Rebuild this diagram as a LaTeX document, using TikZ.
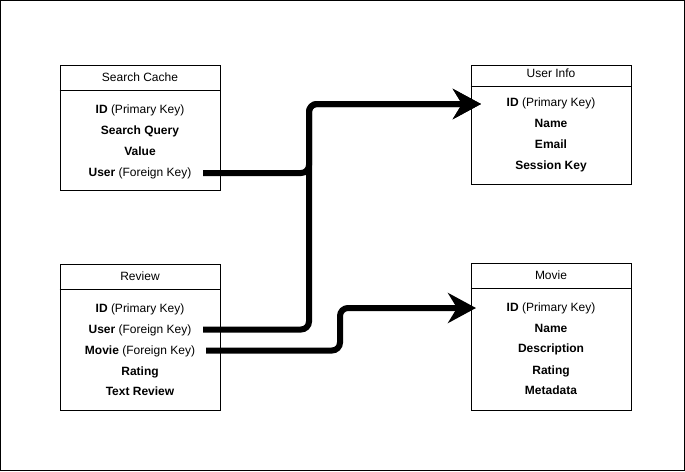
\documentclass[tikz,border=0pt]{standalone}
\usepackage{fontspec}
\setmainfont{Liberation Sans}
\usetikzlibrary{arrows.meta}
\tikzset{
  tbl/.style={draw=black, line width=1pt, minimum width=160pt, inner sep=0pt, fill=white},
  row/.style={anchor=base, inner sep=0pt, font=\fontsize{12}{14}\selectfont},
  conn/.style={line width=6pt, rounded corners=8pt, -{Stealth[length=28pt,width=30pt,inset=9pt]}},
}
\begin{document}
\begin{tikzpicture}[x=1pt,y=-1pt]
\useasboundingbox (0,0) rectangle (685,471);
\draw[line width=1pt] (0.5,0.5) rectangle (684.5,470.5);

% Search Cache
\node[tbl, minimum height=125pt] (sc) at (140,127.5) {};
\draw[line width=1pt] (sc.west |- 0,90) -- (sc.east |- 0,90);
\node[row] (schead) at (140,81.5) {Search Cache};
\node[row] (scid) at (140,113.5) {\textbf{ID} (Primary Key)};
\node[row] (scq) at (140,134.5) {\textbf{Search Query}};
\node[row] (scv) at (140,155.5) {\textbf{Value}};
\node[row] (scuser) at (140,176) {\textbf{User} (Foreign Key)};

% User Info
\node[tbl, minimum height=119pt] (ui) at (551,124.5) {};
\draw[line width=1pt] (ui.west |- 0,86) -- (ui.east |- 0,86);
\node[row] (uihead) at (551,77.5) {User Info};
\node[row] (uiid) at (551,106.5) {\textbf{ID} (Primary Key)};
\node[row] (uiname) at (551,127.5) {\textbf{Name}};
\node[row] (uiemail) at (551,148.5) {\textbf{Email}};
\node[row] (uisk) at (551,169.5) {\textbf{Session Key}};

% Review
\node[tbl, minimum height=146pt] (rv) at (140,337) {};
\draw[line width=1pt] (rv.west |- 0,289) -- (rv.east |- 0,289);
\node[row] (rvhead) at (140,280.5) {Review};
\node[row] (rvid) at (140,312.5) {\textbf{ID} (Primary Key)};
\node[row] (rvuser) at (140,333) {\textbf{User} (Foreign Key)};
\node[row] (rvmovie) at (140,354.5) {\textbf{Movie} (Foreign Key)};
\node[row] (rvrating) at (140,375.5) {\textbf{Rating}};
\node[row] (rvtext) at (140,395.5) {\textbf{Text Review}};

% Movie
\node[tbl, minimum height=147pt] (mv) at (551,336.5) {};
\draw[line width=1pt] (mv.west |- 0,288) -- (mv.east |- 0,288);
\node[row] (mvhead) at (551,279.5) {Movie};
\node[row] (mvid) at (551,311.5) {\textbf{ID} (Primary Key)};
\node[row] (mvname) at (551,332) {\textbf{Name}};
\node[row] (mvdesc) at (551,352.5) {\textbf{Description}};
\node[row] (mvrating) at (551,374) {\textbf{Rating}};
\node[row] (mvmeta) at (551,394.5) {\textbf{Metadata}};

% connector ends
\coordinate (s1) at (203,173);
\coordinate (s2) at (203,329.5);
\coordinate (s3) at (206,350.5);
\coordinate (t1) at (481,104);
\coordinate (t2) at (476,308);

\draw[conn] (s1) -- (309,173) -- (309,104) -- (t1);
\draw[conn] (s2) -- (309,329.5) -- (309,104) -- (t1);
\draw[conn] (s3) -- (340,350.5) -- (340,308) -- (t2);
\end{tikzpicture}
\end{document}
